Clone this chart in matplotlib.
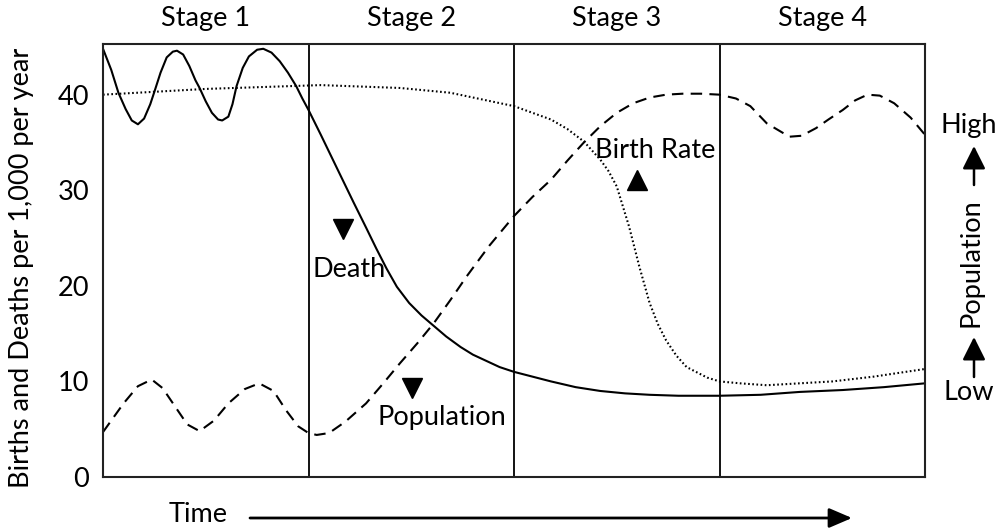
import numpy as np
import matplotlib.pyplot as plt
from matplotlib.patches import FancyArrowPatch

plt.rcParams['font.family'] = ['Lato', 'DejaVu Sans']

# time runs 0..4, one unit per stage
stages = ['Stage 1', 'Stage 2', 'Stage 3', 'Stage 4']
yticks = [0, 10, 20, 30, 40]

death_t = [0.0, 0.04, 0.075, 0.11, 0.14, 0.17, 0.20, 0.23, 0.25, 0.28, 0.31, 0.34, 0.36,
           0.39, 0.42, 0.45, 0.47, 0.50, 0.53, 0.56, 0.58, 0.61, 0.63, 0.65, 0.68, 0.71,
           0.75, 0.78, 0.82, 0.86, 0.90, 0.94, 0.97, 1.0, 1.06, 1.15, 1.22, 1.28, 1.33,
           1.38, 1.43, 1.49, 1.55, 1.61, 1.67, 1.74, 1.80, 1.87, 1.93, 2.0, 2.09, 2.18,
           2.3, 2.42, 2.54, 2.66, 2.8, 3.0, 3.2, 3.39, 3.6, 3.8, 4.0]
death_v = [44.8, 42.6, 40.2, 38.5, 37.3, 36.9, 37.5, 39.0, 40.3, 42.3, 43.9, 44.5, 44.6,
           44.2, 43.0, 41.5, 40.7, 39.3, 38.1, 37.4, 37.3, 37.7, 39.0, 40.9, 42.8, 44.0,
           44.7, 44.8, 44.4, 43.5, 42.3, 40.9, 39.6, 38.4, 35.8, 31.8, 28.7, 26.1, 23.9,
           21.8, 19.9, 18.2, 16.9, 15.8, 14.7, 13.6, 12.8, 12.1, 11.5, 11.0, 10.5, 10.0,
           9.4, 9.0, 8.75, 8.6, 8.5, 8.5, 8.6, 8.9, 9.1, 9.4, 9.8]

birth_t = [0.0, 0.5, 1.06, 1.445, 1.69, 2.0, 2.18, 2.26, 2.34, 2.42, 2.46, 2.50, 2.56,
           2.61, 2.66, 2.70, 2.74, 2.79, 2.84, 2.94, 3.0, 3.1, 3.23, 3.55, 3.75, 4.0]
birth_v = [40.0, 40.6, 41.0, 40.7, 40.2, 38.8, 37.4, 36.4, 35.1, 33.2, 32.0, 30.4, 26.2,
           22.0, 18.2, 16.0, 14.3, 12.7, 11.5, 10.4, 10.0, 9.8, 9.6, 10.0, 10.5, 11.3]

pop_t = [0.0, 0.05, 0.1, 0.17, 0.237, 0.29, 0.35, 0.41, 0.47, 0.54, 0.61, 0.69, 0.76,
         0.83, 0.89, 0.95, 1.0, 1.04, 1.1, 1.18, 1.28, 1.36, 1.445, 1.53, 1.61, 1.69,
         1.77, 1.88, 2.0, 2.09, 2.18, 2.26, 2.34, 2.42, 2.50, 2.58, 2.66, 2.74, 2.82,
         2.91, 3.0, 3.08, 3.15, 3.23, 3.34, 3.40, 3.47, 3.53, 3.60, 3.66, 3.72, 3.78,
         3.85, 3.93, 4.0]
pop_v = [4.7, 6.2, 7.7, 9.5, 10.2, 9.3, 7.4, 5.5, 4.8, 5.9, 7.7, 9.2, 9.8,
         9.0, 7.0, 5.3, 4.6, 4.4, 4.6, 5.8, 7.7, 9.7, 11.9, 14.0, 16.1, 18.5,
         21.0, 24.2, 27.3, 29.3, 31.1, 33.1, 35.0, 36.7, 38.1, 39.1, 39.7, 40.0, 40.1,
         40.1, 40.0, 39.6, 38.8, 37.0, 35.6, 35.7, 36.5, 37.4, 38.4, 39.4, 40.0, 39.9,
         39.1, 37.6, 35.8]

# label text and marker spots (t, v)
labels = ['Death', 'Population', 'Birth Rate']
label_pos = [(1.20, 21.7), (1.648, 6.2), (2.686, 34.2)]
marker_pos = [(1.168, 25.9), (1.502, 9.3), (2.597, 31.1)]
marker_kind = ['v', 'v', '^']

FS = 19.5
W, H = 1002, 531
fig = plt.figure(figsize=(W / 100, H / 100), dpi=100)
ax = fig.add_axes([103 / W, (H - 477) / H, (925 - 103) / W, (477 - 44) / H])

ax.plot(death_t, death_v, '-', color='black', lw=1.5)
ax.plot(birth_t, birth_v, color='black', lw=1.5, linestyle=(0, (0.8, 1.2)))
ax.plot(pop_t, pop_v, color='black', lw=1.5, linestyle=(0, (5.5, 3.5)))

for s in [1, 2, 3]:
    ax.axvline(s, color='black', lw=1.3)

for i, name in enumerate(stages):
    ax.text(i + 0.5, 1.06, name, transform=ax.get_xaxis_transform(),
            ha='center', va='center', fontsize=FS)

for txt, (x, y) in zip(labels, label_pos):
    ax.text(x, y, txt, ha='center', va='center', fontsize=FS)
for m, (x, y) in zip(marker_kind, marker_pos):
    ax.plot(x, y, m, color='black', markersize=15)

ax.set_xlim(0, 4)
ax.set_ylim(0, 45.3)
ax.set_xticks([])
ax.set_yticks(yticks)
ax.tick_params(axis='y', length=0, pad=10, labelsize=FS)
for sp in ax.spines.values():
    sp.set_linewidth(1.5)
    sp.set_color('#222222')

fig.text(22 / W, 1 - 268 / H, 'Births and Deaths per 1,000 per year', rotation=90,
         ha='center', va='center', fontsize=FS)

# right side population scale
fig.text(969 / W, 1 - 125 / H, 'High', ha='center', va='center', fontsize=FS)
fig.text(971 / W, 1 - 263 / H, 'Population', rotation=90, ha='center', va='center', fontsize=FS)
fig.text(969 / W, 1 - 392 / H, 'Low', ha='center', va='center', fontsize=FS)
for y0, y1 in [(185, 146), (377, 337)]:
    fig.add_artist(FancyArrowPatch(
        (974 / W, 1 - y0 / H), (974 / W, 1 - y1 / H), transform=fig.transFigure,
        arrowstyle='-|>,head_length=0.7,head_width=0.35', mutation_scale=20,
        shrinkA=0, shrinkB=0, color='black', lw=1.8))

# time arrow
fig.text(198 / W, 1 - 514 / H, 'Time', ha='center', va='center', fontsize=FS)
fig.add_artist(FancyArrowPatch(
    (250 / W, 1 - 518 / H), (852 / W, 1 - 518 / H), transform=fig.transFigure,
    arrowstyle='-|>,head_length=0.7,head_width=0.3', mutation_scale=20,
    shrinkA=0, shrinkB=0, color='black', lw=2.0))

fig.savefig('out.png', dpi=100)
